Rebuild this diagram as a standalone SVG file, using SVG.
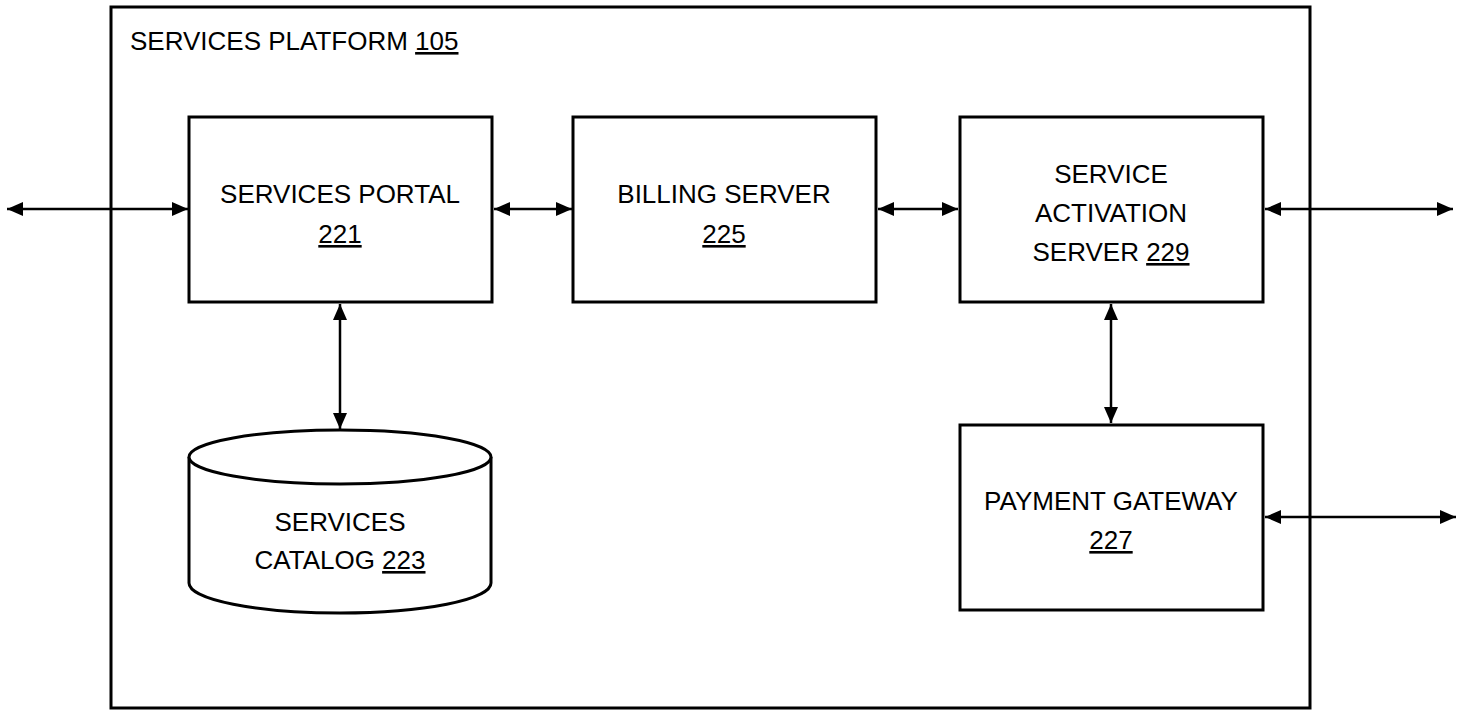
<svg xmlns="http://www.w3.org/2000/svg" width="1463" height="711" viewBox="0 0 1463 711">
<style>
.box{fill:#fff;stroke:#000;stroke-width:3}
.frame{fill:none;stroke:#000;stroke-width:3}
.t{font-family:"Liberation Sans",Arial,sans-serif;font-size:26px;fill:#000;text-anchor:middle}
.u{text-decoration:underline}
.c{stroke:#000;stroke-width:2.5;fill:none;marker-start:url(#ah);marker-end:url(#ah)}
</style>
<defs>
<marker id="ah" viewBox="0 0 16 14" refX="16" refY="7" markerWidth="16" markerHeight="14" markerUnits="userSpaceOnUse" orient="auto-start-reverse">
<path d="M0,0 L16,7 L0,14 z" fill="#000"/>
</marker>
</defs>
<g id="platform">
<rect class="frame" x="111" y="7" width="1199" height="701"/>
<text class="t" x="130" y="50" style="text-anchor:start">SERVICES PLATFORM <tspan class="u">105</tspan></text>
</g>
<g id="services-portal">
<rect class="box" x="189" y="117" width="303" height="185"/>
<text class="t" x="340" y="203">SERVICES PORTAL</text>
<text class="t u" x="340" y="243">221</text>
</g>
<g id="billing-server">
<rect class="box" x="573" y="117" width="303" height="185"/>
<text class="t" x="724" y="203">BILLING SERVER</text>
<text class="t u" x="724" y="243">225</text>
</g>
<g id="service-activation-server">
<rect class="box" x="960" y="117" width="303" height="185"/>
<text class="t" x="1111" y="183">SERVICE</text>
<text class="t" x="1111" y="222">ACTIVATION</text>
<text class="t" x="1111" y="261">SERVER <tspan class="u">229</tspan></text>
</g>
<g id="payment-gateway">
<rect class="box" x="960" y="425" width="303" height="185"/>
<text class="t" x="1111" y="510">PAYMENT GATEWAY</text>
<text class="t u" x="1111" y="549">227</text>
</g>
<g id="services-catalog">
<path class="box" d="M189,457 L189,583 A151,30 0 0 0 491,583 L491,457"/>
<ellipse class="box" cx="340" cy="457" rx="151" ry="27"/>
<text class="t" x="340" y="531">SERVICES</text>
<text class="t" x="340" y="569">CATALOG <tspan class="u">223</tspan></text>
</g>
<g id="connectors">
<line class="c" x1="7" y1="209" x2="188" y2="209"/>
<line class="c" x1="494" y1="209" x2="572" y2="209"/>
<line class="c" x1="878" y1="209" x2="958" y2="209"/>
<line class="c" x1="1265" y1="209" x2="1453" y2="209"/>
<line class="c" x1="1265" y1="517" x2="1456" y2="517"/>
<line class="c" x1="340" y1="304" x2="340" y2="429"/>
<line class="c" x1="1111" y1="304" x2="1111" y2="423"/>
</g>
</svg>
